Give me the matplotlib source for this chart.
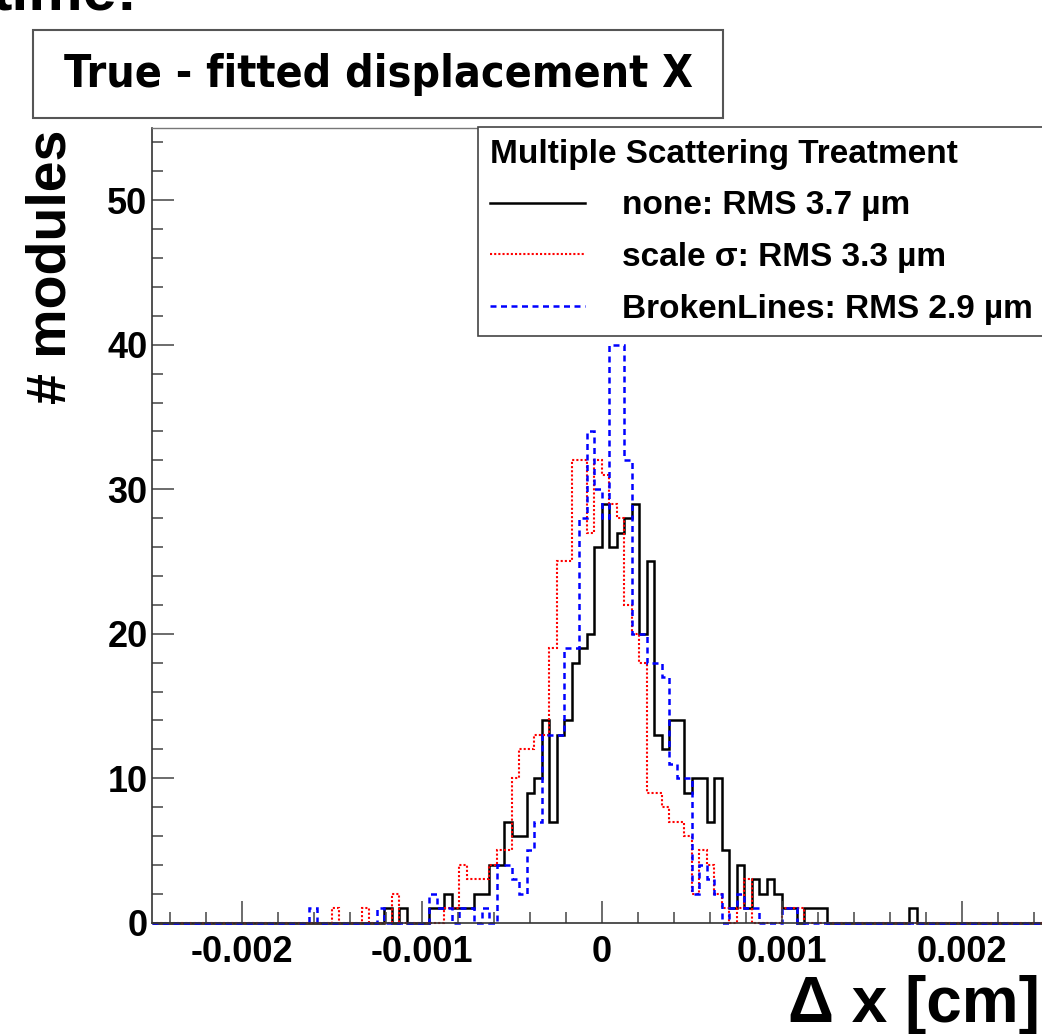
import numpy as np
import matplotlib
matplotlib.use("Agg")
import matplotlib.pyplot as plt
from matplotlib import font_manager
from matplotlib.font_manager import FontProperties
from matplotlib.patches import Rectangle
from matplotlib.ticker import MultipleLocator

# 120 bins between -0.0025 and 0.0025 cm, counts listed from the left
x_min, x_max, n_bins = -0.0025, 0.0025, 120

none_counts = [
    0, 0, 0, 0, 0, 0, 0, 0, 0, 0,
    0, 0, 0, 0, 0, 0, 0, 0, 0, 0,
    0, 0, 0, 0, 0, 0, 0, 0, 0, 0,
    0, 1, 0, 1, 0, 0, 0, 1, 1, 2,
    1, 1, 1, 2, 2, 4, 4, 7, 6, 6,
    9, 10, 14, 7, 13, 14, 18, 19, 20, 26,
    29, 26, 27, 28, 29, 20, 25, 13, 12, 14,
    14, 9, 10, 10, 7, 10, 5, 1, 4, 1,
    3, 2, 3, 2, 1, 1, 0, 1, 1, 1,
    0, 0, 0, 0, 0, 0, 0, 0, 0, 0,
    0, 1, 0, 0, 0, 0, 0, 0, 0, 0,
    0, 0, 0, 0, 0, 0, 0, 0, 0, 0,
]
scale_counts = [
    0, 0, 0, 0, 0, 0, 0, 0, 0, 0,
    0, 0, 0, 0, 0, 0, 0, 0, 0, 0,
    0, 0, 0, 0, 1, 0, 0, 0, 1, 0,
    0, 0, 2, 0, 0, 0, 0, 0, 0, 1,
    1, 4, 3, 3, 3, 4, 5, 5, 10, 12,
    12, 13, 13, 19, 25, 25, 32, 32, 27, 32,
    31, 29, 28, 22, 20, 18, 9, 9, 8, 7,
    7, 6, 2, 5, 4, 2, 1, 0, 1, 3,
    0, 0, 0, 0, 1, 1, 1, 0, 0, 0,
    0, 0, 0, 0, 0, 0, 0, 0, 0, 0,
    0, 0, 0, 0, 0, 0, 0, 0, 0, 0,
    0, 0, 0, 0, 0, 0, 0, 0, 0, 0,
]
broken_counts = [
    0, 0, 0, 0, 0, 0, 0, 0, 0, 0,
    0, 0, 0, 0, 0, 0, 0, 0, 0, 0,
    0, 1, 0, 0, 0, 0, 0, 0, 0, 0,
    1, 0, 0, 0, 0, 0, 0, 2, 1, 1,
    0, 1, 1, 0, 1, 0, 4, 4, 3, 2,
    5, 7, 13, 13, 13, 19, 19, 28, 34, 30,
    28, 40, 40, 32, 20, 20, 18, 18, 17, 11,
    10, 10, 2, 4, 3, 2, 0, 1, 2, 1,
    1, 0, 0, 0, 1, 1, 0, 0, 0, 0,
    0, 0, 0, 0, 0, 0, 0, 0, 0, 0,
    0, 0, 0, 0, 0, 0, 0, 0, 0, 0,
    0, 0, 0, 0, 0, 0, 0, 0, 0, 0,
]

labels = ["none: RMS 3.7 \u00b5m", "scale \u03c3: RMS 3.3 \u00b5m",
          "BrokenLines: RMS 2.9 \u00b5m"]
x_ticks = [-0.002, -0.001, 0, 0.001, 0.002]
x_tick_labels = ["-0.002", "-0.001", "0", "0.001", "0.002"]
y_ticks = [0, 10, 20, 30, 40, 50]

plt.rcParams['font.family'] = ['Liberation Sans', 'DejaVu Sans']
plt.rcParams['font.weight'] = 'bold'
plt.rcParams['axes.unicode_minus'] = False


def narrow_bold_font():
    # look for a condensed / narrow bold face, title in the original uses one
    for f in font_manager.fontManager.ttflist:
        w = f.weight if isinstance(f.weight, int) else {'bold': 700, 'semibold': 600,
                                                        'demibold': 600}.get(f.weight, 400)
        narrow = ('Narrow' in f.name or 'Condensed' in f.name
                  or 'condensed' in str(f.stretch))
        if narrow and w >= 600 and f.style == 'normal' and 'Mono' not in f.name:
            return FontProperties(fname=f.fname)
    return FontProperties(family=['Liberation Sans', 'DejaVu Sans'], weight='bold')


W, H = 1042, 1034
fig = plt.figure(figsize=(W / 100, H / 100), dpi=100)
ax = fig.add_axes([151.7 / W, (H - 922.7) / H, 900 / W, (922.7 - 128) / H])

edges = np.linspace(x_min, x_max, n_bins + 1)
h_none = ax.stairs(none_counts, edges, color='black', lw=1.8, clip_on=False)
h_scale = ax.stairs(scale_counts, edges, color='red', lw=1.5,
                    linestyle=(0, (1, 1)), clip_on=False)
h_broken = ax.stairs(broken_counts, edges, color='blue', lw=1.8,
                     linestyle=(0, (2.4, 1.8)), clip_on=False)

ax.set_xlim(x_min, x_max)
ax.set_ylim(0, 55)
ax.set_xticks(x_ticks, labels=x_tick_labels)
ax.set_yticks(y_ticks)
ax.xaxis.set_minor_locator(MultipleLocator(0.0002))
ax.yaxis.set_minor_locator(MultipleLocator(2))
ax.tick_params(which='both', direction='in', top=False, right=False,
               color='#444444', width=1.1)
ax.tick_params(which='major', length=16)
ax.tick_params(which='minor', length=8)
ax.tick_params(axis='x', labelsize=26, pad=9)
ax.tick_params(axis='y', labelsize=26, pad=3)
for lab in ax.get_xticklabels() + ax.get_yticklabels():
    lab.set_fontweight('bold')
for side in ['left', 'bottom']:
    ax.spines[side].set_color('#333333')
    ax.spines[side].set_linewidth(1.2)
ax.spines['top'].set_color('#777777')
ax.spines['top'].set_linewidth(1.0)

leg = ax.legend([h_none, h_scale, h_broken], labels,
                title='Multiple Scattering Treatment',
                title_fontproperties={'weight': 'bold', 'size': 24},
                loc='upper left',
                bbox_to_anchor=(478 / W, 1 - 127 / H, 0.6, 0.0),
                bbox_transform=fig.transFigure, mode='expand',
                borderaxespad=0, fancybox=False, framealpha=1,
                edgecolor='#444444', fontsize=24, handlelength=2.85,
                handletextpad=1.12, labelspacing=0.62, borderpad=0.35,
                alignment='left')
leg.get_frame().set_linewidth(1.2)

# title pave
fig.patches.append(Rectangle((33 / W, 1 - 118 / H), 690 / W, 88 / H,
                             transform=fig.transFigure, facecolor='white',
                             edgecolor='#555555', lw=1.5))
title_fp = narrow_bold_font()
title_fp.set_size(34.5)
title = fig.text(378 / W, 1 - 74 / H, "True - fitted displacement X",
                 fontproperties=title_fp, ha='center', va='center')
# fit the title to the width it has in the original (about 630 px)
fig.canvas.draw()
tw = title.get_window_extent().width
title.set_fontsize(min(44, 34.5 * 630 / tw))

fig.text(-0.008, 1 - 10 / H, "time:", fontsize=44, fontweight='bold',
         va='baseline')

fig.text(52 / W, 1 - 130 / H, "# modules", fontsize=40, fontweight='bold',
         rotation=90, ha='center', va='top')
fig.text(1040 / W, 1 - 1022 / H, "\u0394 x [cm]", fontsize=46,
         fontweight='bold', ha='right', va='baseline')

fig.savefig('out.png', dpi=100)
